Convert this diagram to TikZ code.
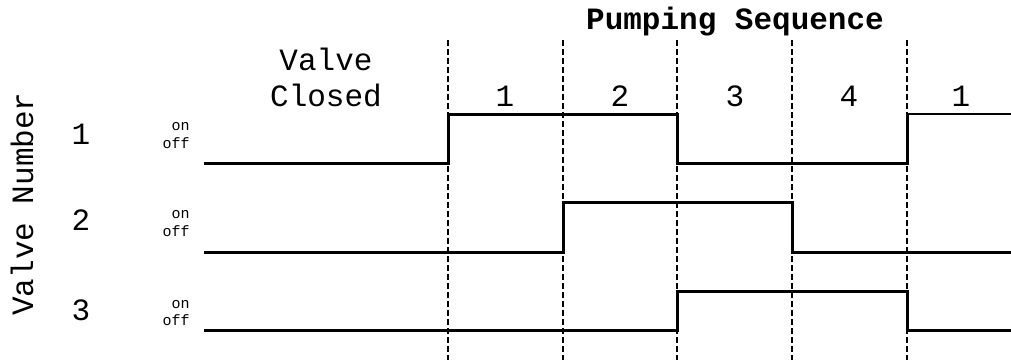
\documentclass[tikz,border=0pt]{standalone}
\usepackage{fontspec}
\setmainfont{Liberation Mono}
\setmonofont{Liberation Mono}
\begin{document}
\begin{tikzpicture}[x=0.5pt,y=-0.5pt,
  lbl/.style={font=\fontsize{15.5}{18}\selectfont,anchor=base,inner sep=0pt},
  onoff/.style={font=\fontsize{7.5}{9}\selectfont,anchor=base east,inner sep=0pt},
  wave/.style={line width=1.5pt,line join=miter},
  divider/.style={line width=1pt,dash pattern=on 3pt off 1.5pt}]
  \useasboundingbox (0,0) rectangle (1011,360);
  % headings
  \node[lbl,font=\fontsize{15.5}{18}\selectfont\bfseries] (seq) at (735,29) {Pumping Sequence};
  \node[lbl] (closedA) at (326,70) {Valve};
  \node[lbl] (closedB) at (326,106) {Closed};
  \node[lbl] (p1) at (505,106) {1};
  \node[lbl] (p2) at (620,106) {2};
  \node[lbl] (p3) at (735,106) {3};
  \node[lbl] (p4) at (849,106) {4};
  \node[lbl] (p5) at (961,106) {1};
  \node[lbl,rotate=90] (axis) at (33,204) {Valve Number};
  % valve labels
  \node[lbl] (v1) at (81,144) {1};
  \node[lbl] (v2) at (81,230) {2};
  \node[lbl] (v3) at (81,320) {3};
  \node[onoff] (on1) at (190,130) {on};
  \node[onoff] (off1) at (190,148) {off};
  \node[onoff] (on2) at (190,218) {on};
  \node[onoff] (off2) at (190,236) {off};
  \node[onoff] (on3) at (190,308) {on};
  \node[onoff] (off3) at (190,325) {off};
  % phase boundaries
  \foreach \x in {448,563,677,792,907}
    \draw[divider] (\x,40) -- (\x,360);
  % valve states
  \draw[wave] (204,163) -- (448,163) -- (448,114) -- (677,114) -- (677,163) -- (907,163) -- (907,114);
  \draw[line width=1pt] (907,114) -- (1011,114);
  \draw[wave] (204,252) -- (563,252) -- (563,202) -- (792,202) -- (792,252) -- (1011,252);
  \draw[wave] (204,330) -- (677,330) -- (677,291) -- (907,291) -- (907,330) -- (1011,330);
\end{tikzpicture}
\end{document}
